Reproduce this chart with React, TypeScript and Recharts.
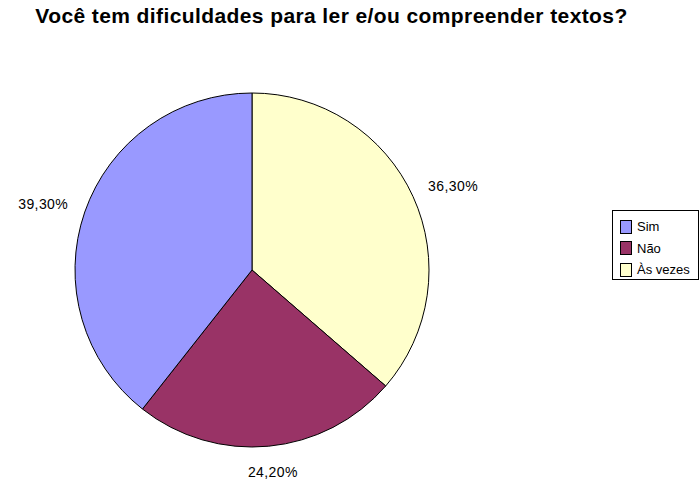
import { PieChart, Pie, Cell, Legend } from "recharts";

const categories = ["Às vezes", "Não", "Sim"];
const values = [36.3, 24.2, 39.3];
const labels = ["36,30%", "24,20%", "39,30%"];
const colors = ["#FFFFCC", "#993366", "#9999FF"];
const legendOrder = ["Sim", "Não", "Às vezes"];

const data = categories.map((name, i) => ({ name, value: values[i], label: labels[i], color: colors[i] }));

const RAD = Math.PI / 180;

function renderLabel(props: any) {
  const { cx, cy, midAngle, outerRadius, index } = props;
  const r = outerRadius + 18;
  const cos = Math.cos(-midAngle * RAD);
  const sin = Math.sin(-midAngle * RAD);
  const x = cx + r * cos + cos * 26;
  const y = cy + r * sin + sin * 8;
  return (
    <text
      x={x}
      y={y}
      textAnchor="middle"
      dominantBaseline="central"
      fill="#000"
      style={{ fontSize: 14, letterSpacing: 0.4, fontFamily: "Liberation Sans, Arial, sans-serif" }}
    >
      {data[index].label}
    </text>
  );
}

function renderLegend() {
  return (
    <div
      style={{
        border: "1px solid #000",
        width: 87,
        height: 70,
        boxSizing: "border-box",
        padding: "5px 0 0 7px",
        fontFamily: "Liberation Sans, Arial, sans-serif",
        fontSize: 13,
        background: "#fff",
      }}
    >
      {legendOrder.map((name) => {
        const d = data.find((x) => x.name === name)!;
        return (
          <div key={name} style={{ display: "flex", alignItems: "center", height: 21.5 }}>
            <span
              style={{
                display: "inline-block",
                width: 10,
                height: 12,
                background: d.color,
                border: "1px solid #000",
                marginRight: 5,
              }}
            />
            <span>{name}</span>
          </div>
        );
      })}
    </div>
  );
}

export default function App() {
  return (
    <div style={{ position: "absolute", left: 0, top: 0, width: 699, height: 482, background: "#fff" }}>
      <div
        style={{
          position: "absolute",
          left: 0,
          top: 4,
          width: 663,
          textAlign: "center",
          fontFamily: "Liberation Sans, Arial, sans-serif",
          fontWeight: "bold",
          fontSize: 21,
          letterSpacing: 0.4,
        }}
      >
        Você tem dificuldades para ler e/ou compreender textos?
      </div>
      <PieChart width={699} height={482} margin={{ top: 0, right: 0, bottom: 0, left: 0 }}>
        <Pie
          data={data}
          dataKey="value"
          nameKey="name"
          cx={252}
          cy={270}
          outerRadius={177}
          startAngle={90}
          endAngle={-270}
          stroke="#000"
          strokeWidth={1}
          label={renderLabel}
          labelLine={false}
          isAnimationActive={false}
        >
          {data.map((d) => (
            <Cell key={d.name} fill={d.color} />
          ))}
        </Pie>
        <Legend
          content={renderLegend}
          layout="vertical"
          wrapperStyle={{ position: "absolute", left: 612, top: 210, width: 87 }}
        />
      </PieChart>
    </div>
  );
}
